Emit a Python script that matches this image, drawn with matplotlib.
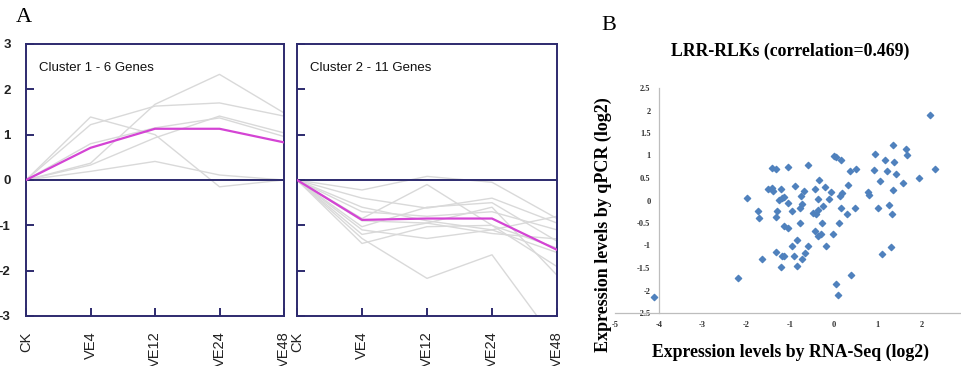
import numpy as np
import matplotlib.pyplot as plt

# Panel A: gene expression clusters
timepoints = ['CK', 'VE4', 'VE12', 'VE24', 'VE48']

cluster1_genes = [
    [0, 1.39, 1.00, -0.15, 0.00],
    [0, 1.22, 1.63, 1.70, 1.41],
    [0, 0.37, 1.67, 2.33, 1.48],
    [0, 0.33, 0.93, 1.41, 1.04],
    [0, 0.19, 0.41, 0.11, 0.00],
    [0, 0.80, 1.15, 1.37, 0.96],
]
cluster1_mean = [0, 0.71, 1.13, 1.13, 0.83]

cluster2_genes = [
    [0, -0.22, 0.08, -0.05, -0.85],
    [0, -0.40, -0.62, -0.40, -0.95],
    [0, -0.70, -0.80, -0.70, -1.10],
    [0, -1.03, -0.60, -0.50, -1.35],
    [0, -1.10, -1.29, -1.10, -0.80],
    [0, -1.20, -0.95, -1.18, -1.30],
    [0, -1.29, -2.17, -1.65, -3.60],
    [0, -1.40, -1.03, -1.00, -1.91],
    [0, -0.85, -0.10, -1.00, -1.50],
    [0, -0.60, -0.90, -1.10, -1.60],
    [0, -0.90, -0.95, -0.60, -2.10],
]
cluster2_mean = [0, -0.88, -0.85, -0.85, -1.54]

# Panel B: RNA-Seq vs qPCR
rnaseq = [2.19, 2.31, 1.95, 1.36, 1.64, 1.68, 0.95, 1.18, 1.37, 0.91, 1.21, 1.42,
          1.06, 1.58, 1.36, 0.78, 0.81, 1.02, 1.26, 1.33, 0.00, 0.06, 0.16, 0.38,
          0.50, 0.32, 0.18, 0.15, 0.16, 0.49, 0.30, 0.11, -0.06, -0.10, -0.19, -0.33,
          -0.42, -0.37, -0.24, -0.37, -0.47, -0.41, -0.27, -0.59, -0.67, -0.76, -0.72,
          -0.78, -0.96, -0.78, -0.89, -1.05, -1.20, -1.18, -1.26, -1.14, -1.05, -1.41,
          -1.33, -1.42, -1.50, -1.40, -1.29, -1.32, -1.14, -1.04, -1.99, -1.74, -1.72,
          -0.83, -0.44, -0.37, -0.29, -0.02, -0.95, -0.59, -0.17, -1.31, -1.19, -1.14,
          -0.91, -0.66, -0.72, -1.64, -1.20, -0.85, -2.19, 0.04, 0.10, 0.40, 1.10,
          1.30, -4.11]
qpcr = [1.89, 0.69, 0.49, 1.24, 1.15, 1.01, 1.03, 0.91, 0.86, 0.68, 0.65, 0.59,
        0.43, 0.38, 0.24, 0.19, 0.13, -0.17, -0.10, -0.30, 1.00, 0.96, 0.91, 0.65,
        0.69, 0.35, 0.16, 0.10, -0.16, -0.16, -0.30, -0.51, 0.18, 0.04, 0.31, 0.46,
        0.25, 0.04, -0.12, -0.22, -0.27, -0.31, -0.51, 0.80, 0.21, 0.11, -0.08,
        -0.16, -0.24, -0.49, 0.33, 0.74, 0.25, 0.05, 0.02, 0.07, -0.05, 0.72,
        0.71, 0.28, 0.25, 0.21, -0.23, -0.37, -0.57, -0.60, 0.06, -0.24, -0.39,
        -0.87, -0.67, -0.79, -0.75, -0.75, -1.01, -1.02, -1.00, -1.15, -1.23, -1.23,
        -1.23, -1.17, -1.31, -1.30, -1.47, -1.46, -1.72, -1.85, -2.09, -1.66, -1.18,
        -1.04, -2.15]
x_ticks_b = [-5, -4, -3, -2, -1, 0, 1, 2]
y_ticks_b = [-2.5, -2, -1.5, -1, -0.5, 0, 0.5, 1, 1.5, 2, 2.5]

fig = plt.figure(figsize=(9.61, 3.66), dpi=100)
W, H = 961, 366

navy = '#2d2a6e'
sans = 'Liberation Sans'
serif = 'Liberation Serif'


def px_axes(x0, y0, x1, y1):
    return fig.add_axes([x0 / W, 1 - y1 / H, (x1 - x0) / W, (y1 - y0) / H])


def cluster_panel(ax, genes, mean, title, show_y):
    x = np.arange(len(timepoints))
    for g in genes:
        ax.plot(x, g, color='#d9d9d9', lw=1.0, zorder=1)
    ax.axhline(0, color=navy, lw=1.4, zorder=2)
    ax.plot(x, mean, color='#d444d4', lw=1.6, zorder=3)
    ax.set_xlim(0, 4)
    ax.set_ylim(-3, 3)
    ax.set_xticks(x)
    ax.set_xticklabels(timepoints, rotation=90, fontsize=10.5, family=sans, color='#222')
    ax.set_yticks(range(-3, 4))
    if show_y:
        ax.set_yticklabels([str(v) for v in range(-3, 4)], fontsize=9.5,
                           family=sans, fontweight='bold', color='#222')
    else:
        ax.set_yticklabels([])
    ax.tick_params(direction='in', length=6, width=1.4, color=navy, pad=11)
    for s in ax.spines.values():
        s.set_color(navy)
        s.set_linewidth(1.4)
    ax.text(0.05, 0.912, title, transform=ax.transAxes, fontsize=9.5,
            family=sans, va='center', ha='left', color='#111')


ax1 = px_axes(26, 44, 284, 316)
cluster_panel(ax1, cluster1_genes, cluster1_mean, 'Cluster 1 - 6 Genes', True)
ax2 = px_axes(297, 44, 557, 316)
cluster_panel(ax2, cluster2_genes, cluster2_mean, 'Cluster 2 - 11 Genes', False)

fig.text(24 / W, 1 - 18 / H, 'A', family=serif, fontsize=16, ha='center', va='center')
fig.text(609 / W, 1 - 25 / H, 'B', family=serif, fontsize=16, ha='center', va='center')

# Scatter panel
ax3 = px_axes(615, 88, 965, 313)
ax3.spines['top'].set_visible(False)
ax3.spines['right'].set_visible(False)
ax3.spines['left'].set_position(('data', -4))
for s in ('left', 'bottom'):
    ax3.spines[s].set_color('#bdbdbd')
    ax3.spines[s].set_linewidth(0.9)
ax3.scatter(rnaseq, qpcr, marker='D', s=10, color='#4f81bd', zorder=3, clip_on=False)
ax3.set_xlim(-5, 3)
ax3.set_ylim(-2.5, 2.5)
tick_font = dict(family=serif, fontsize=6, fontweight='bold', color='#333')
ax3.set_xticks(x_ticks_b)
ax3.set_xticklabels([f'{v:g}' for v in x_ticks_b], **tick_font)
ax3.set_yticks(y_ticks_b)
ax3.set_yticklabels([f'{v:g}' for v in y_ticks_b], **tick_font)
ax3.tick_params(length=0, pad=6)
ax3.set_title('LRR-RLKs (correlation=0.469)', family=serif, fontweight='bold',
              fontsize=12.8, pad=23)
fig.text(790 / W, 1 - 352 / H, 'Expression levels by RNA-Seq (log2)', family=serif,
         fontweight='bold', fontsize=12.8, ha='center', va='center')
fig.text(603 / W, 1 - 225 / H, 'Expression levels by qPCR (log2)', family=serif,
         fontweight='bold', fontsize=13, ha='center', va='center', rotation=90)

plt.savefig('out.png', dpi=100)
